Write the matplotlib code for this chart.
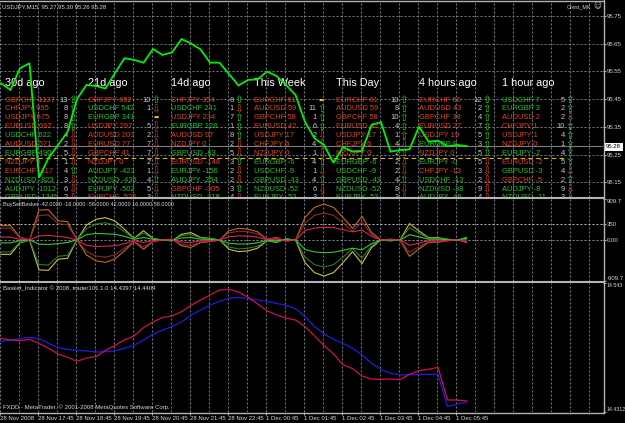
import matplotlib
matplotlib.use("Agg")
import matplotlib.pyplot as plt
import matplotlib.transforms as mtransforms
from matplotlib.patches import Rectangle
from matplotlib.lines import Line2D

# ---------------- data ----------------
price = [95.507, 95.483, 95.561, 95.579, 95.167, 95.238, 95.285, 95.332, 95.450, 95.501,
         95.497, 95.488, 95.544, 95.597, 95.591, 95.581, 95.630, 95.609, 95.618, 95.666,
         95.650, 95.629, 95.581, 95.581, 95.540, 95.499, 95.519, 95.521, 95.549, 95.533,
         95.501, 95.465, 95.368, 95.309, 95.285, 95.221, 95.277, 95.261, 95.263, 95.357,
         95.367, 95.261, 95.267, 95.269, 95.351, 95.297, 95.300, 95.280, 95.285, 95.281]
bid_price = 95.28
level_price = 95.239
level_end_bar = 59.6
price_ticks = [95.15, 95.25, 95.35, 95.45, 95.55, 95.65, 95.75]

buy_outer = [318, 318, 64, 0, 664, 673, 428, 406, 0, -333, -460, -496, -421, -237, -36, -206, -36, 0, 18, -127,
             -164, -59, -36, 0, 206, 258, 243, 182, 18, 55, -27, 0, 502, 724, 799, 724, 502, 258, 525, 168,
             0, 18, 0, -364, -200, -52, -52, -18, 9, -42]
buy_mid = [264, 264, 50, 0, 546, 555, 364, 337, 0, -255, -355, -382, -328, -182, -27, -155, -27, 0, 14, -96,
           -123, -46, -27, 0, 155, 196, 182, 137, 14, 41, -18, 0, 382, 546, 601, 546, 382, 196, 400, 127,
           0, 14, 0, -273, -150, -39, -39, -14, 7, -16]
buy_inner = [64, 64, 14, 0, 91, 100, 82, 55, 0, -118, -146, -137, -127, -82, -14, -55, -14, 0, 7, -46,
             -55, -18, -14, 0, 73, 91, 86, 64, 5, 18, -9, 0, 209, 264, 282, 273, 228, 182, 218, 82,
             0, 5, 0, -118, -68, -18, -18, -9, 5, -58]
sell_outer = [-318, -318, -64, 0, -664, -673, -428, -406, 0, 333, 460, 496, 421, 237, 36, 206, 36, 0, -18, 127,
              164, 59, 36, 0, -206, -258, -243, -182, -18, -55, 27, 0, -502, -724, -799, -724, -502, -258, -525, -168,
              0, -18, 0, 364, 200, 52, 52, 18, -9, 42]
sell_mid = [-264, -264, -50, 0, -546, -555, -364, -337, 0, 255, 355, 382, 328, 182, 27, 155, 27, 0, -14, 96,
            123, 46, 27, 0, -155, -196, -182, -137, -14, -41, 18, 0, -382, -546, -601, -546, -382, -196, -400, -127,
            0, -14, 0, 273, 150, 39, 39, 14, -7, 16]
sell_inner = [-64, -64, -14, 0, -91, -100, -82, -55, 0, 118, 146, 137, 127, 82, 14, 55, 14, 0, -7, 46,
              55, 18, 14, 0, -73, -91, -86, -64, -5, -18, 9, 0, -209, -264, -282, -273, -228, -182, -218, -82,
              0, -5, 0, 118, 68, 18, 18, 9, -5, 58]
basket_levels = [350, 0]
basket_ticks = [-909.7, 0, 350, 909.7]
basket_ticklabels = ["-909.7", "0.00", "350", "909.7"]

basket_red = [14.4950, 14.4936, 14.4930, 14.4942, 14.4907, 14.4864, 14.4815, 14.4786, 14.4751, 14.4780,
              14.4792, 14.4846, 14.4890, 14.4936, 14.4971, 14.5043, 14.5092, 14.5132, 14.5144, 14.5182,
              14.5236, 14.5283, 14.5326, 14.5369, 14.5375, 14.5352, 14.5306, 14.5248, 14.5190, 14.5153,
              14.5127, 14.5109, 14.5052, 14.4971, 14.4887, 14.4815, 14.4722, 14.4688, 14.4624, 14.4598,
              14.4595, 14.4598, 14.4592, 14.4638, 14.4670, 14.4682, 14.4699, 14.4416, 14.4416, 14.4409]
basket_blue = [14.4922, 14.4936, 14.4948, 14.4959, 14.4948, 14.4907, 14.4870, 14.4855, 14.4846, 14.4841,
               14.4832, 14.4835, 14.4841, 14.4864, 14.4890, 14.4936, 14.4985, 14.5023, 14.5052, 14.5092,
               14.5150, 14.5196, 14.5239, 14.5271, 14.5297, 14.5306, 14.5294, 14.5283, 14.5271, 14.5254,
               14.5236, 14.5208, 14.5138, 14.5052, 14.4988, 14.4942, 14.4907, 14.4864, 14.4806, 14.4734,
               14.4682, 14.4647, 14.4633, 14.4636, 14.4638, 14.4638, 14.4638, 14.4358, 14.4381, 14.4397]
ind_ticks = [14.4312, 14.543]
ind_ticklabels = ["14.4312", "14.543"]

time_labels = ["28 Nov 2008", "28 Nov 17:45", "28 Nov 18:45", "28 Nov 19:45", "28 Nov 20:45",
               "28 Nov 21:45", "28 Nov 22:45", "1 Dec 00:45", "1 Dec 01:45", "1 Dec 02:45",
               "1 Dec 03:45", "1 Dec 04:45", "1 Dec 05:45"]

headers = ["30d ago", "21d ago", "14d ago", "This Week", "This Day", "4 hours ago", "1 hour ago"]
col_pairs = [
    ["GBPCHF", "CHFJPY", "USDJPY", "EURUSD", "USDCHF", "AUDUSD", "EURGBP", "NZDJPY", "EURCHF", "NZDUSD", "AUDJPY", "GBPUSD"],
    ["CHFJPY", "USDCHF", "EURGBP", "USDJPY", "AUDUSD", "EURUSD", "GBPCHF", "NZDJPY", "AUDJPY", "NZDUSD", "EURJPY", "EURCHF"],
    ["CHFJPY", "USDCHF", "USDJPY", "EURGBP", "AUDUSD", "NZDJPY", "GBPUSD", "EURUSD", "EURJPY", "AUDJPY", "GBPCHF", "NZDUSD"],
    ["EURCHF", "AUDUSD", "GBPCHF", "EURUSD", "USDJPY", "CHFJPY", "NZDJPY", "EURGBP", "USDCHF", "GBPUSD", "NZDUSD", "EURJPY"],
    ["EURCHF", "AUDUSD", "GBPCHF", "EURUSD", "USDJPY", "CHFJPY", "NZDJPY", "EURGBP", "USDCHF", "GBPUSD", "NZDUSD", "EURJPY"],
    ["EURCHF", "AUDUSD", "GBPCHF", "EURUSD", "USDJPY", "EURGBP", "NZDJPY", "EURJPY", "CHFJPY", "USDCHF", "NZDUSD", "AUDJPY"],
    ["USDCHF", "EURGBP", "AUDUSD", "CHFJPY", "USDJPY", "NZDJPY", "EURJPY", "EURUSD", "GBPUSD", "GBPCHF", "AUDJPY", "NZDUSD"],
]
col_values = [
    ["1137", "995", "675", "662", "622", "571", "490", "0", "-117", "-823", "-1012", "-1345"],
    ["652", "542", "341", "297", "203", "77", "41", "0", "-423", "-436", "-502", "-525"],
    ["354", "241", "234", "128", "97", "0", "-63", "-148", "-156", "-254", "-305", "-318"],
    ["61", "59", "58", "42", "17", "6", "0", "-6", "-9", "-43", "-52", "-53"],
    ["61", "59", "58", "42", "17", "6", "0", "-6", "-9", "-43", "-52", "-53"],
    ["60", "43", "38", "27", "19", "9", "0", "-0", "-13", "-13", "-38", "-46"],
    ["7", "3", "2", "1", "1", "0", "-2", "-2", "-3", "-5", "-8", "-11"],
]
col_counts = [
    ["13", "8", "8", "8", "4", "2", "5", "1", "4", "3", "6", "2"],
    ["10", "1", "", "5", "2", "7", "7", "2", "1", "4", "5", "3"],
    ["8", "1", "7", "1", "8", "2", "5", "3", "2", "2", "3", "4"],
    ["", "11", "1", "6", "2", "4", "1", "4", "1", "4", "6", "3"],
    ["10", "8", "10", "4", "1", "4", "2", "2", "2", "4", "8", "3"],
    ["12", "2", "4", "7", "5", "3", "5", "5", "3", "2", "9", "4"],
    ["5", "2", "2", "10", "4", "1", "4", "5", "4", "2", "9", "3"],
]
col_dirs = [
    [1, 1, 1, 1, -1, -1, -1, -1, 1, -1, -1, -1],
    [1, -1, 0, -1, -1, -1, -1, -1, -1, 1, -1, -1],
    [1, -1, 1, 1, 1, -1, -1, 1, -1, -1, 1, -1],
    [0, 1, 1, 1, -1, -1, -1, 1, -1, 1, -1, -1],
    [1, 1, 1, 1, 1, -1, 1, -1, -1, 1, -1, -1],
    [1, 1, 1, 1, 1, 1, 1, -1, -1, -1, -1, -1],
    [1, 1, -1, 1, 1, 1, 1, 1, -1, 1, -1, -1],
]
red_pairs = ["GBPCHF", "CHFJPY", "USDJPY", "EURUSD", "AUDUSD", "NZDJPY", "EURCHF"]

# ---------------- style ----------------
W, H = 625, 423
ARIAL = ['Liberation Sans', 'DejaVu Sans']
plt.rcParams['font.family'] = ARIAL
fig = plt.figure(figsize=(W / 100, H / 100), dpi=100, facecolor='black')
PX = mtransforms.Affine2D().scale(1, -1).translate(0, H)

GRID = '#6f7f8f'
TXT = '#d8d8d8'
BORDER = '#b4b4b4'
RED_T = '#e0441e'
GREEN_T = '#22c422'
RIGHT = 603
PXBAR = 9.5
FS_SMALL = 4.3


def add_pane(top, bottom, label_size=FS_SMALL):
    ax = fig.add_axes([0, 1 - bottom / H, RIGHT / W, (bottom - top) / H])
    ax.set_facecolor('black')
    for s in ax.spines.values():
        s.set_visible(False)
    ax.set_xlim(-1 / PXBAR, (RIGHT - 1) / PXBAR)
    ax.yaxis.tick_right()
    ax.tick_params(axis='y', colors=BORDER, labelcolor=TXT, labelsize=label_size,
                   length=2.2, width=0.7, pad=0.6)
    ax.tick_params(axis='x', bottom=False, labelbottom=False)
    for k in range(0, 32):
        ax.axvline(2 * k - 0.1, color=GRID, lw=0.72, ls=(0, (2, 2)), zorder=0)
    return ax


def edge_labels(ax):
    labels = ax.get_yticklabels()
    labels[0].set_verticalalignment('bottom')
    labels[-1].set_verticalalignment('top')


bars = list(range(len(price)))

# ---- main pane ----
ax1 = add_pane(1, 197)
ax1.set_ylim(95.0978, 95.8029)
ax1.set_yticks(price_ticks)
ax1.set_yticklabels([f"{p:.2f}" for p in price_ticks])
for p in price_ticks:
    ax1.axhline(p, color=GRID, lw=0.72, ls=(0, (2, 2)), zorder=0)
ax1.axhline(bid_price, color='#7c7c7c', lw=0.8, zorder=1)
ax1.hlines(level_price, -0.2, level_end_bar, colors='#d4b41c', lw=0.8, linestyles=(0, (4, 3)), zorder=1)
ax1.plot(bars, price, color='#00f000', lw=1.3, zorder=5, solid_joinstyle='miter')

ax1.text(2, 6.5, "USDJPY,M15  95.27 95.30 95.26 95.28", transform=PX, color=TXT, fontsize=FS_SMALL, va='center')
ax1.text(566.5, 6.5, "Orest_MK", transform=PX, color=TXT, fontsize=3.9, va='center')
ax1.text(597, 6.3, "\u263a", transform=PX, color=TXT, fontsize=5.5, va='center', ha='center', family=['DejaVu Sans'])

col_x = [5, 87.7, 171, 253.5, 336, 419, 501.7]
row_y0, row_dy = 100, 8.9
for c, x0 in enumerate(col_x):
    ax1.text(x0, 83, headers[c], transform=PX, color='white', fontsize=7.8, va='center', zorder=4)
    for r in range(len(col_pairs[c])):
        y = row_y0 + r * row_dy
        pair = col_pairs[c][r]
        colr = RED_T if pair in red_pairs else GREEN_T
        ax1.text(x0, y, f"{pair} {col_values[c][r]}", transform=PX, color=colr, fontsize=5.4,
                 va='center', clip_on=True, zorder=4)
        ax1.text(x0 + 63, y, col_counts[c][r], transform=PX, color='#c8c8c8', fontsize=5.4,
                 va='center', ha='right', clip_on=True, zorder=4)
        d = col_dirs[c][r]
        if d == 0:
            ax1.text(x0 + 68, y, "\u25ac", transform=PX, color='#d8c020', fontsize=4, va='center',
                     ha='center', family=['DejaVu Sans'], clip_on=True, zorder=4)
        else:
            ax1.text(x0 + 68, y, "\u21e7" if d > 0 else "\u21e9", transform=PX,
                     color='#20d020' if d > 0 else '#e04020', fontsize=7.5, va='center', ha='center',
                     family=['DejaVu Sans'], clip_on=True, zorder=4)

# current price box
fig.add_artist(Rectangle((604, 142.5), 18.5, 8, transform=PX, facecolor='white', edgecolor='none'))
fig.text(605.5, 146.5, "95.28", transform=PX, color='black', fontsize=FS_SMALL, va='center')

# ---- BuySellBasket pane ----
ax2 = add_pane(199, 281)
ax2.set_ylim(-909.7, 909.7)
ax2.set_yticks(basket_ticks)
ax2.set_yticklabels(basket_ticklabels)
edge_labels(ax2)
for lv, lc in zip(basket_levels, ['#b8b8b8', '#8c8c8c']):
    ax2.axhline(lv, color=lc, lw=0.72, ls=(0, (2, 2)), zorder=1)
series = [(buy_outer, '#c06a20'), (sell_outer, '#c8c048'), (buy_mid, '#8a2c2c'),
          (sell_mid, '#2a7a2a'), (sell_inner, '#34c834'), (buy_inner, '#e0205a')]
for vals, colr in series:
    ax2.plot(bars, vals, color=colr, lw=0.8, zorder=3)
ax2.text(3, 204.5, "BuySellBasket -42.0000 -16.0000 -58.0000 42.0000 16.0000 58.0000",
         transform=PX, color=TXT, fontsize=4.0, va='center')

# ---- Basket indicator pane ----
ax3 = add_pane(283, 412, label_size=3.8)
ax3.set_ylim(14.4312, 14.543)
ax3.set_yticks(ind_ticks)
ax3.set_yticklabels(ind_ticklabels)
edge_labels(ax3)
ax3.plot(bars, basket_blue, color='#1e1ee0', lw=0.9, zorder=3)
ax3.plot(bars, basket_red, color='#d01050', lw=0.9, zorder=4)
ax3.text(3, 289, "Basket_Indicator \u00a9 2008, trader101 1.0 14.4397 14.4409",
         transform=PX, color=TXT, fontsize=FS_SMALL, va='center')
ax3.text(3, 407.5, "FXDD - MetaTrader, \u00a9 2001-2008 MetaQuotes Software Corp.",
         transform=PX, color=TXT, fontsize=FS_SMALL, va='center')
ax3.set_xticks([4 * n - 0.1 for n in range(len(time_labels))])
ax3.set_xticklabels(time_labels)
ax3.tick_params(axis='x', bottom=True, labelbottom=True, colors=BORDER, labelcolor=TXT,
                labelsize=FS_SMALL, length=2, width=0.7, pad=0.8)
for lbl in ax3.get_xticklabels():
    lbl.set_horizontalalignment('left')

# ---- borders ----
for (x0, y0, x1, y1, lw) in [(0, 198, RIGHT, 198, 1.5), (0, 282, RIGHT, 282, 1.5),
                             (0, 412.5, RIGHT, 412.5, 1.0), (0, 0.5, RIGHT, 0.5, 1.0),
                             (RIGHT + 0.5, 0, RIGHT + 0.5, 413, 1.0)]:
    fig.add_artist(Line2D([x0, x1], [y0, y1], transform=PX, color=BORDER, lw=lw))

fig.savefig('out.png', dpi=100, facecolor='black')
